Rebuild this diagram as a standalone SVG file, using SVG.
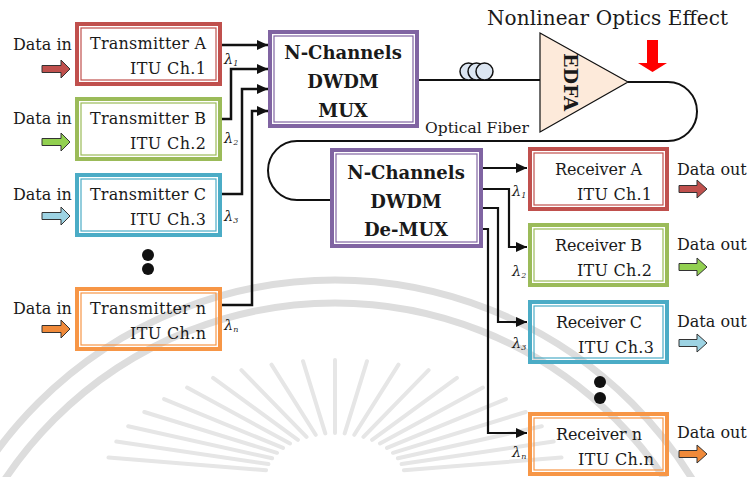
<svg xmlns="http://www.w3.org/2000/svg" width="750" height="477" viewBox="0 0 750 477">
<defs>
<style>
text{font-family:"DejaVu Serif","Liberation Serif",serif;fill:#1a1a1a}
.lbl{font-size:16px}
.big{font-size:18px;font-weight:bold;text-anchor:middle}
.lam{font-size:14.5px;font-style:italic}
.sub{font-size:8px}
.wm{fill:none;stroke:#dddddd;stroke-width:7}
.ray{stroke:#e6e6e6;stroke-width:4;stroke-linecap:round}
.ob{fill:none;stroke-width:4}
.ib{fill:none;stroke-width:1.2}
.red{stroke:#c0504d}.grn{stroke:#9bbb59}.blu{stroke:#4bacc6}.org{stroke:#f79646}.pur{stroke:#8064a2}
.conn{fill:none;stroke:#111;stroke-width:2.5;marker-end:url(#ah)}
.conn2{fill:none;stroke:#111;stroke-width:2.2;marker-end:url(#ah)}
.fib{fill:none;stroke:#111;stroke-width:2}
.da{stroke:#333;stroke-width:1}
.dot{fill:#111}
</style>
<marker id="ah" markerUnits="userSpaceOnUse" markerWidth="11" markerHeight="10" refX="11" refY="5" orient="auto">
<path d="M0,0 L11,5 L0,10 z" fill="#111"/>
</marker>
</defs>

<g id="watermark">
<circle class="wm" cx="335" cy="700" r="420"/>
<circle class="wm" cx="335" cy="700" r="397"/>
<path class="ray" d="M266.1,470.2L108.5,457.5M268.4,464.1L116.3,441.5M272.1,458.3L128.2,426.3M277,452.8L144.3,412M283,447.9L164.1,399.1M290,443.5L187.1,387.6M297.9,439.8L213.1,377.9M306.5,436.9L241.4,370.1M315.7,434.8L271.5,364.6M325.3,433.4L303,361.2M335,433L335,360M344.7,433.4L367,361.2M354.3,434.8L398.5,364.6M363.5,436.9L428.6,370.1M372.1,439.8L456.9,377.9M380,443.5L482.9,387.6M387,447.9L505.9,399.1M393,452.8L525.7,412M397.9,458.3L541.8,426.3M401.6,464.1L553.7,441.5M403.9,470.2L561.5,457.5"/>
</g>

<g id="connectors">
<path class="conn" d="M222,45 H268"/>
<path class="conn" d="M222,119 H231 V69 H268"/>
<path class="conn" d="M222,194 H242 V89 H268"/>
<path class="conn" d="M222,305 H252 V111 H268"/>
<path class="conn2" d="M483,168 H527"/>
<path class="conn2" d="M483,189 H509 V247 H527"/>
<path class="conn2" d="M483,208 H498 V322 H527"/>
<path class="conn2" d="M483,229 H488 V433 H527"/>
<path class="fib" d="M419,80 H540" stroke-width="1.6"/>
<path class="fib" d="M628,82 H668 A29,29.5 0 0 1 668,141 H297 A29,29.5 0 0 0 297,200 H330"/>
</g>

<g id="labels-lambda">
<text class="lam" x="224" y="64">λ<tspan class="sub" dy="2">1</tspan></text>
<text class="lam" x="224" y="143">λ<tspan class="sub" dy="2">2</tspan></text>
<text class="lam" x="224" y="221">λ<tspan class="sub" dy="2">3</tspan></text>
<text class="lam" x="224" y="330">λ<tspan class="sub" dy="2">n</tspan></text>
<text class="lam" x="512" y="196">λ<tspan class="sub" dy="2">1</tspan></text>
<text class="lam" x="512" y="276">λ<tspan class="sub" dy="2">2</tspan></text>
<text class="lam" x="512" y="348">λ<tspan class="sub" dy="2">3</tspan></text>
<text class="lam" x="512" y="457">λ<tspan class="sub" dy="2">n</tspan></text>
</g>

<g id="tx-a">
<rect class="ob red" x="77" y="24" width="143" height="60"/>
<rect class="ib red" x="81" y="28" width="135" height="52"/>
<text class="lbl" x="90" y="49" textLength="116">Transmitter A</text>
<text class="lbl" x="130" y="74" textLength="76">ITU Ch.1</text>
<text class="lbl" x="13" y="50">Data in</text>
<polygon class="da" fill="#c0504d" points="42,65.5 61,65.5 61,60 70,69 61,78 61,72.5 42,72.5"/>
</g>
<g id="tx-b">
<rect class="ob grn" x="77" y="99" width="143" height="60"/>
<rect class="ib grn" x="81" y="103" width="135" height="52"/>
<text class="lbl" x="90" y="124" textLength="116">Transmitter B</text>
<text class="lbl" x="130" y="149" textLength="76">ITU Ch.2</text>
<text class="lbl" x="13" y="124">Data in</text>
<polygon class="da" fill="#92d050" points="42,138.5 61,138.5 61,133 70,142 61,151 61,145.5 42,145.5"/>
</g>
<g id="tx-c">
<rect class="ob blu" x="77" y="175" width="143" height="60"/>
<rect class="ib blu" x="81" y="179" width="135" height="52"/>
<text class="lbl" x="90" y="200" textLength="116">Transmitter C</text>
<text class="lbl" x="130" y="225" textLength="76">ITU Ch.3</text>
<text class="lbl" x="13" y="200">Data in</text>
<polygon class="da" fill="#9dd3e3" points="42,212.5 61,212.5 61,207 70,216 61,225 61,219.5 42,219.5"/>
</g>
<g id="tx-dots">
<circle class="dot" cx="148" cy="255" r="6"/>
<circle class="dot" cx="148" cy="269" r="6"/>
</g>
<g id="tx-n">
<rect class="ob org" x="77" y="289" width="143" height="60"/>
<rect class="ib org" x="81" y="293" width="135" height="52"/>
<text class="lbl" x="90" y="314" textLength="116">Transmitter n</text>
<text class="lbl" x="130" y="339" textLength="76">ITU Ch.n</text>
<text class="lbl" x="13" y="314">Data in</text>
<polygon class="da" fill="#f08a3a" points="42,325.5 61,325.5 61,320 70,329 61,338 61,332.5 42,332.5"/>
</g>

<g id="mux">
<rect class="ob pur" x="270" y="32" width="147" height="94"/>
<rect class="ib pur" x="274" y="36" width="139" height="86"/>
<text class="big" x="343" y="59">N-Channels</text>
<text class="big" x="343" y="88">DWDM</text>
<text class="big" x="343" y="117">MUX</text>
</g>

<g id="fiber-coil">
<circle cx="468.5" cy="71.5" r="8.5" fill="#dbe5f1" stroke="#111" stroke-width="1.5"/>
<circle cx="476.5" cy="71.5" r="8.5" fill="#dbe5f1" stroke="#111" stroke-width="1.5"/>
<circle cx="484.5" cy="71.5" r="8.5" fill="#dbe5f1" stroke="#111" stroke-width="1.5"/>
<text x="425" y="133" font-size="15.5">Optical Fiber</text>
</g>

<g id="edfa">
<polygon points="540,33 540,132 628,82" fill="#fdeada" stroke="#111" stroke-width="1.2"/>
<text transform="translate(564,82) rotate(90)" font-size="19" font-weight="bold" text-anchor="middle">EDFA</text>
</g>

<g id="nonlinear">
<text x="487" y="25" font-size="20" textLength="241">Nonlinear Optics Effect</text>
<polygon points="647,40 658,40 658,63 667,63 652.5,72 638,63 647,63" fill="#ff0000"/>
</g>

<g id="demux">
<rect class="ob pur" x="332" y="150" width="149" height="96"/>
<rect class="ib pur" x="336" y="154" width="141" height="88"/>
<text class="big" x="406" y="179">N-Channels</text>
<text class="big" x="406" y="208">DWDM</text>
<text class="big" x="406" y="236">De-MUX</text>
</g>

<g id="rx-a">
<rect class="ob red" x="530" y="149" width="137" height="60"/>
<rect class="ib red" x="534" y="153" width="129" height="52"/>
<text class="lbl" x="555" y="175" textLength="87">Receiver A</text>
<text class="lbl" x="577" y="200" textLength="75">ITU Ch.1</text>
<text class="lbl" x="677" y="175">Data out</text>
<polygon class="da" fill="#c0504d" points="679,185.5 697,185.5 697,180 707,189 697,198 697,192.5 679,192.5"/>
</g>
<g id="rx-b">
<rect class="ob grn" x="530" y="225" width="137" height="60"/>
<rect class="ib grn" x="534" y="229" width="129" height="52"/>
<text class="lbl" x="555" y="251" textLength="87">Receiver B</text>
<text class="lbl" x="577" y="276" textLength="75">ITU Ch.2</text>
<text class="lbl" x="677" y="250">Data out</text>
<polygon class="da" fill="#92d050" points="679,263.5 697,263.5 697,258 707,267 697,276 697,270.5 679,270.5"/>
</g>
<g id="rx-c">
<rect class="ob blu" x="530" y="302" width="137" height="60"/>
<rect class="ib blu" x="534" y="306" width="129" height="52"/>
<text class="lbl" x="556" y="328" textLength="86">Receiver C</text>
<text class="lbl" x="578" y="353" textLength="76">ITU Ch.3</text>
<text class="lbl" x="677" y="327">Data out</text>
<polygon class="da" fill="#9dd3e3" points="679,339.5 697,339.5 697,334 707,343 697,352 697,346.5 679,346.5"/>
</g>
<g id="rx-dots">
<circle class="dot" cx="600" cy="382" r="6"/>
<circle class="dot" cx="600" cy="398" r="6"/>
</g>
<g id="rx-n">
<rect class="ob org" x="530" y="414" width="137" height="60"/>
<rect class="ib org" x="534" y="418" width="129" height="52"/>
<text class="lbl" x="556" y="440" textLength="86">Receiver n</text>
<text class="lbl" x="578" y="465" textLength="76">ITU Ch.n</text>
<text class="lbl" x="677" y="438">Data out</text>
<polygon class="da" fill="#f08a3a" points="679,450.5 697,450.5 697,445 707,454 697,463 697,457.5 679,457.5"/>
</g>
</svg>
